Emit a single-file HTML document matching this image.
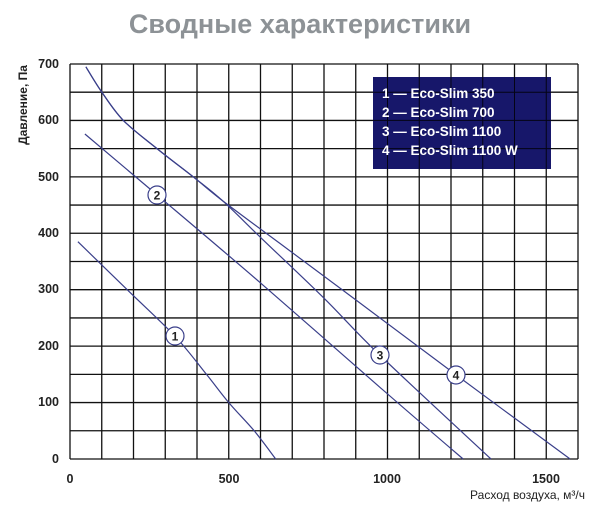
<!DOCTYPE html>
<html><head><meta charset="utf-8"><style>
body{margin:0;background:#fff;width:600px;height:514px;overflow:hidden}
svg{font-family:"Liberation Sans",sans-serif}
</style></head><body>
<svg id="s" width="600" height="514" xmlns="http://www.w3.org/2000/svg">
<text x="300" y="33" text-anchor="middle" font-size="27" font-weight="bold" fill="#8d9296">Сводные характеристики</text>
<g id="grid" stroke="#111" stroke-width="1.3"></g>
<g font-size="12.5" font-weight="bold" fill="#222" text-anchor="end">
<text x="59" y="68">700</text><text x="59" y="124">600</text><text x="59" y="181">500</text><text x="59" y="237">400</text><text x="59" y="293">300</text><text x="59" y="350">200</text><text x="59" y="406">100</text><text x="59" y="463">0</text>
</g>
<g font-size="12.5" font-weight="bold" fill="#222" text-anchor="middle">
<text x="70" y="483">0</text><text x="229" y="483">500</text><text x="387" y="483">1000</text><text x="546" y="483">1500</text>
</g>
<text x="585" y="499" text-anchor="end" font-size="12" fill="#222">Расход воздуха, м³/ч</text>
<text transform="translate(27,105) rotate(-90)" text-anchor="middle" font-size="12" font-weight="bold" fill="#222">Давление, Па</text>
<g id="curves" fill="none" stroke="#3a3f8a" stroke-width="1.2"></g>
<rect x="373" y="77" width="178" height="92" fill="#17176a"/>
<g id="grid2" stroke="#000" stroke-width="1" opacity="0.8"></g>
<g font-size="13.5" font-weight="bold" fill="#fff">
<text x="382" y="98">1 — Eco-Slim 350</text>
<text x="382" y="117">2 — Eco-Slim 700</text>
<text x="382" y="136">3 — Eco-Slim 1100</text>
<text x="382" y="155">4 — Eco-Slim 1100 W</text>
</g>
<g id="labels" font-size="12" font-weight="bold" fill="#222" text-anchor="middle"></g>
</svg>
<script>
var X=function(v){return 70+v*0.3175},Y=function(p){return 459-p*0.5643};
var ns="http://www.w3.org/2000/svg";
function el(t,a,p){var e=document.createElementNS(ns,t);for(var k in a)e.setAttribute(k,a[k]);p.appendChild(e);return e;}
var g=document.getElementById('grid'),g2=document.getElementById('grid2');
for(var v=0;v<=1600;v+=100){el('line',{x1:X(v),x2:X(v),y1:Y(700),y2:Y(0)},g);}
for(var p=0;p<=700;p+=50){el('line',{x1:X(0),x2:X(1600),y1:Y(p),y2:Y(p)},g);}
for(var v=1000;v<=1500;v+=100){el('line',{x1:X(v),x2:X(v),y1:77,y2:169},g2);}
for(var p=550;p<=650;p+=50){el('line',{x1:373,x2:551,y1:Y(p),y2:Y(p)},g2);}
var c=document.getElementById('curves');
var common=[[50,695],[98,652],[168,600],[274,550],[388,500],[480,458]];
var curves=[
[[25,385],[180,300],[330,218],[430,150],[500,100],[580,50],[648,0]],
[[47,576],[274,468],[600,312],[976,127],[1238,0]],
common.concat([[605,390],[800,285],[976,184],[1326,0]]),
common.concat([[661,382],[900,282],[1216,149],[1575,0]])
];
function smooth(P){
 var d='M'+P[0][0].toFixed(1)+' '+P[0][1].toFixed(1);
 for(var i=0;i<P.length-1;i++){
  var p0=P[i-1]||P[i],p1=P[i],p2=P[i+1],p3=P[i+2]||p2;
  var c1=[p1[0]+(p2[0]-p0[0])/6,p1[1]+(p2[1]-p0[1])/6];
  var c2=[p2[0]-(p3[0]-p1[0])/6,p2[1]-(p3[1]-p1[1])/6];
  d+=' C'+c1[0].toFixed(1)+' '+c1[1].toFixed(1)+' '+c2[0].toFixed(1)+' '+c2[1].toFixed(1)+' '+p2[0].toFixed(1)+' '+p2[1].toFixed(1);
 }
 return d;
}
curves.forEach(function(pts){
 el('path',{d:smooth(pts.map(function(q){return [X(q[0]),Y(q[1])]}))},c);
});
var L=document.getElementById('labels');
[[175,336,'1'],[157,195,'2'],[380,355,'3'],[456,375,'4']].forEach(function(a){
 el('circle',{cx:a[0],cy:a[1],r:9,fill:'#fff',stroke:'#3a3f8a','stroke-width':1.2},L);
 var t=el('text',{x:a[0],y:a[1]+4.5},L);t.textContent=a[2];
});
</script>
</body></html>
